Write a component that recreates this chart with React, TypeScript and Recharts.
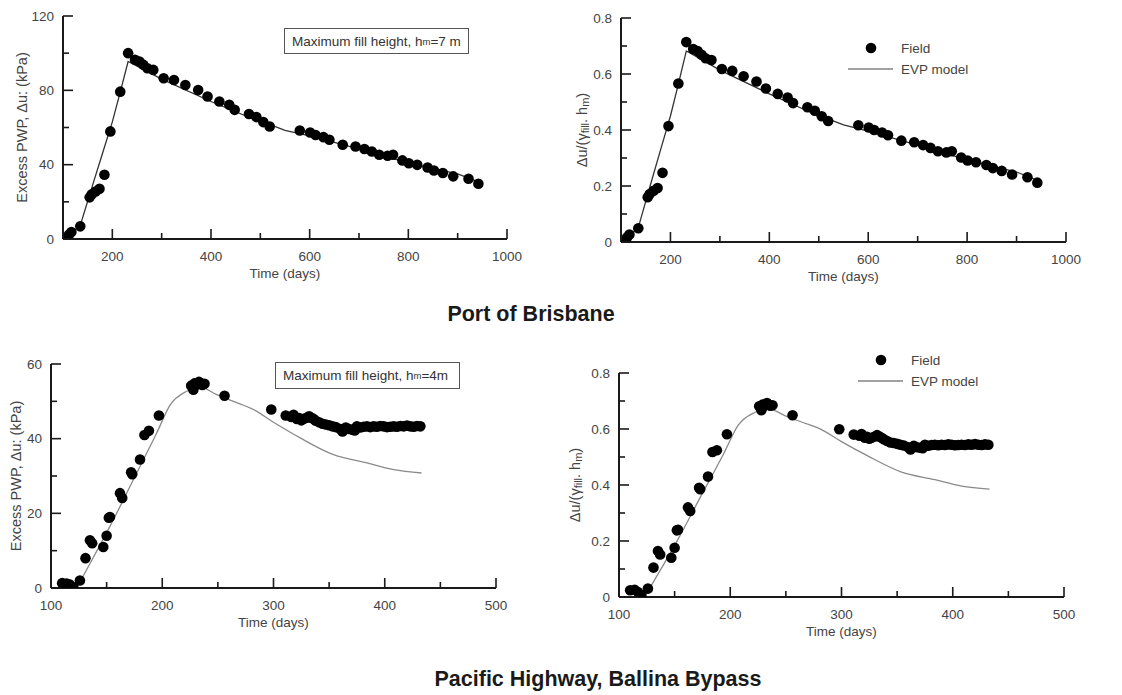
import React from 'react';
import { ComposedChart, Scatter, Line, XAxis, YAxis, Legend } from 'recharts';

// Port of Brisbane - field readings (days, excess PWP kPa, normalised)
const brisbaneFieldDays = [105, 112, 117, 135, 154, 158, 166, 174, 184, 196, 216, 232, 246, 255, 263, 271, 283, 304, 325, 348, 374, 393, 417, 437, 448, 477, 492, 506, 519, 580, 601, 612, 628, 640, 667, 693, 711, 726, 741, 758, 769, 788, 801, 818, 839, 852, 870, 891, 922, 942];
const brisbaneFieldPwp = [0, 2.3, 3.8, 6.8, 22.4, 24, 25.6, 27, 34.6, 57.9, 79.3, 100, 96.4, 95.5, 93.7, 91.9, 91, 86.5, 85.6, 82.9, 80.2, 76.7, 74, 72.2, 69.5, 67.3, 65.6, 62.9, 60.5, 58.4, 57.3, 56, 54.8, 53.4, 50.7, 49.8, 48.4, 47.1, 45.3, 44.8, 45.3, 42.3, 40.8, 39.9, 38.5, 36.9, 35.5, 33.7, 32.4, 29.7];
const brisbaneFieldRatio = [0, 0.016, 0.027, 0.049, 0.16, 0.171, 0.183, 0.193, 0.247, 0.414, 0.566, 0.714, 0.689, 0.682, 0.669, 0.656, 0.65, 0.618, 0.611, 0.592, 0.573, 0.548, 0.529, 0.516, 0.496, 0.481, 0.469, 0.449, 0.432, 0.417, 0.409, 0.4, 0.391, 0.381, 0.362, 0.356, 0.346, 0.336, 0.324, 0.32, 0.324, 0.302, 0.291, 0.285, 0.275, 0.264, 0.254, 0.241, 0.231, 0.212];

// Port of Brisbane - EVP model
const brisbaneModelDays = [103, 120, 137, 160, 180, 200, 216, 232, 236, 300, 400, 500, 520, 550, 600, 700, 800, 900, 945];
const brisbaneModelPwp = [0, 3, 9, 29, 46, 63, 79, 95.5, 95, 86, 74, 63, 61.5, 58.5, 55.5, 48.5, 41, 35, 30.5];
const brisbaneModelRatio = [0, 0.021, 0.064, 0.207, 0.329, 0.45, 0.564, 0.682, 0.679, 0.614, 0.529, 0.45, 0.439, 0.418, 0.396, 0.346, 0.293, 0.25, 0.218];

// Ballina Bypass - field readings
const ballinaFieldDays = [110, 114, 117, 120, 126, 131, 135, 137, 147, 150, 152, 153, 162, 164, 172, 173, 180, 184, 188, 197, 226, 228, 229, 231, 233, 234, 236, 238, 256, 298, 311, 316, 318, 321, 323, 325, 327, 330, 332, 334, 336, 338, 341, 344, 347, 350, 353, 356, 360, 362, 365, 368, 371, 373, 375, 378, 381, 384, 387, 390, 393, 396, 399, 402, 405, 408, 411, 414, 417, 420, 423, 426, 429, 432];
const ballinaFieldPwp = [1.3, 1.2, 0.9, 0.2, 2, 8, 12.8, 12, 11, 14, 18.8, 19, 25.4, 24.1, 31, 30.5, 34.4, 41, 42.1, 46.2, 54.2, 53.1, 54.8, 54.5, 55.2, 54.9, 54.4, 54.7, 51.5, 47.8, 46.2, 45.8, 46.4, 45.3, 45.5, 44.9, 45.3, 45.6, 46, 45.6, 45.3, 44.8, 44.4, 44, 43.8, 43.6, 43.3, 43.1, 42.6, 41.9, 43, 42.6, 42.4, 42.2, 43.3, 43, 43.2, 43.3, 43.1, 43.3, 43.2, 43.4, 43.3, 43.1, 43.2, 43.3, 43.2, 43.4, 43.3, 43.5, 43.3, 43.2, 43.4, 43.3];
const ballinaFieldRatio = [0.024, 0.026, 0.018, 0.006, 0.03, 0.105, 0.164, 0.152, 0.14, 0.176, 0.238, 0.24, 0.32, 0.307, 0.39, 0.385, 0.43, 0.518, 0.524, 0.581, 0.681, 0.667, 0.687, 0.684, 0.693, 0.688, 0.683, 0.685, 0.649, 0.599, 0.58, 0.576, 0.582, 0.569, 0.572, 0.565, 0.569, 0.573, 0.578, 0.573, 0.569, 0.563, 0.557, 0.552, 0.55, 0.547, 0.544, 0.541, 0.535, 0.527, 0.54, 0.535, 0.533, 0.531, 0.544, 0.54, 0.543, 0.544, 0.542, 0.544, 0.543, 0.545, 0.544, 0.542, 0.543, 0.544, 0.543, 0.545, 0.544, 0.546, 0.544, 0.543, 0.545, 0.544];

// Ballina Bypass - EVP model
const ballinaModelDays = [123, 132, 153, 174, 195, 207, 222, 234, 249, 264, 282, 300, 324, 354, 384, 408, 433];
const ballinaModelPwp = [0, 4.9, 16.5, 29, 41.5, 49, 52.7, 53.8, 51.8, 50, 47.8, 44.4, 40.2, 35.7, 33.5, 31.7, 30.8];
const ballinaModelRatio = [0, 0.061, 0.206, 0.363, 0.519, 0.613, 0.659, 0.673, 0.648, 0.625, 0.598, 0.555, 0.503, 0.446, 0.419, 0.396, 0.385];

// axis ticks (minor ticks have no label)
const brisbaneDayTicks = [100, 200, 300, 400, 500, 600, 700, 800, 900, 1000];
const brisbaneDayLabels = [200, 400, 600, 800, 1000];
const ballinaDayTicks = [100, 150, 200, 250, 300, 350, 400, 450, 500];
const ballinaDayLabels = [100, 200, 300, 400, 500];
const brisbanePwpTicks = [0, 20, 40, 60, 80, 100, 120];
const brisbanePwpLabels = [0, 40, 80, 120];
const ballinaPwpTicks = [0, 10, 20, 30, 40, 50, 60];
const ballinaPwpLabels = [0, 20, 40, 60];
const ratioTicks = [0, 0.1, 0.2, 0.3, 0.4, 0.5, 0.6, 0.7, 0.8];
const ratioLabels = [0, 0.2, 0.4, 0.6, 0.8];

const FONT = '"Liberation Sans", Arial, sans-serif';
const AXIS = '#1a1a1a';
const TEXT = '#444';

const toPoints = (xs: number[], ys: number[]) => xs.map((x, i) => ({ x, y: ys[i] }));

const xTick = (labels: number[]) => (props: any) => {
  const { x, y, payload } = props;
  const major = labels.includes(payload.value);
  return (
    <g>
      <line x1={x} x2={x} y1={y} y2={y - (major ? 10 : 6)} stroke={AXIS} strokeWidth={1.6} />
      {major && (
        <text x={x} y={y + 17} textAnchor="middle" dominantBaseline="central" fontSize={13.5} fill={TEXT} fontFamily={FONT}>
          {payload.value}
        </text>
      )}
    </g>
  );
};

const yTick = (labels: number[]) => (props: any) => {
  const { x, y, payload } = props;
  const major = labels.includes(payload.value);
  return (
    <g>
      <line x1={x} x2={x + (major ? 10 : 6)} y1={y} y2={y} stroke={AXIS} strokeWidth={1.6} />
      {major && (
        <text x={x - 9} y={y} textAnchor="end" dominantBaseline="central" fontSize={13.5} fill={TEXT} fontFamily={FONT}>
          {payload.value}
        </text>
      )}
    </g>
  );
};

const xTitle = (props: any) => {
  const { x, y, width } = props.viewBox;
  return (
    <text x={x + width / 2} y={y + 34} textAnchor="middle" dominantBaseline="central" fontSize={13.5} fill={TEXT} fontFamily={FONT}>
      Time (days)
    </text>
  );
};

const yTitle = (content: React.ReactNode, gap: number) => (props: any) => {
  const { x, y, width, height } = props.viewBox;
  const cx = x + width - gap;
  const cy = y + height / 2;
  return (
    <text x={cx} y={cy} transform={`rotate(-90 ${cx} ${cy})`} textAnchor="middle" dominantBaseline="central" fontSize={14.5} fill={TEXT} fontFamily={FONT}>
      {content}
    </text>
  );
};

const pwpTitle = 'Excess PWP, \u0394u: (kPa)';
const ratioTitle = (
  <>
    <tspan>{'\u0394u/(\u03b3'}</tspan>
    <tspan fontSize={11} dy={3}>fill</tspan>
    <tspan dy={-3}>. h</tspan>
    <tspan fontSize={11} dy={3}>m</tspan>
    <tspan dy={-3}>)</tspan>
  </>
);

const Dot = (p: any) => <circle cx={p.cx} cy={p.cy} r={5.3} fill="#000" />;

const LegendBox = () => (
  <svg width={160} height={44} style={{ overflow: 'visible', display: 'block' }}>
    <circle cx={23} cy={10} r={5.3} fill="#000" />
    <text x={53} y={10} dominantBaseline="central" fontSize={13.5} fill={TEXT} fontFamily={FONT}>Field</text>
    <line x1={0} x2={45} y1={31} y2={31} stroke="#444" strokeWidth={1.2} />
    <text x={53} y={31} dominantBaseline="central" fontSize={13.5} fill={TEXT} fontFamily={FONT}>EVP model</text>
  </svg>
);

type PanelProps = {
  left: number;
  top: number;
  width: number;
  height: number;
  margin: { top: number; right: number; bottom: number; left: number };
  field: { x: number; y: number }[];
  model: { x: number; y: number }[];
  xDomain: [number, number];
  xTicks: number[];
  xLabels: number[];
  yDomain: [number, number];
  yTicks: number[];
  yLabels: number[];
  yLabel: React.ReactNode;
  yGap: number;
  modelColor: string;
  smooth: boolean;
  legendAt?: { left: number; top: number };
};

// plot box edges are given by the margins; axes take 1px, taken off the margins
const Panel = (p: PanelProps) => (
  <div style={{ position: 'absolute', left: p.left, top: p.top }}>
    <ComposedChart
      width={p.width}
      height={p.height}
      margin={{ top: p.margin.top, right: p.margin.right, bottom: p.margin.bottom - 1, left: p.margin.left - 1 }}
    >
      <XAxis
        type="number"
        dataKey="x"
        domain={p.xDomain}
        ticks={p.xTicks}
        interval={0}
        allowDataOverflow
        height={1}
        tickSize={0}
        tickMargin={0}
        tickLine={false}
        tick={xTick(p.xLabels)}
        axisLine={{ stroke: AXIS, strokeWidth: 2 }}
        label={xTitle}
      />
      <YAxis
        type="number"
        dataKey="y"
        domain={p.yDomain}
        ticks={p.yTicks}
        interval={0}
        allowDataOverflow
        width={1}
        tickSize={0}
        tickMargin={0}
        tickLine={false}
        tick={yTick(p.yLabels)}
        axisLine={{ stroke: AXIS, strokeWidth: 2 }}
        label={yTitle(p.yLabel, p.yGap)}
      />
      <Line
        data={p.model}
        dataKey="y"
        type={p.smooth ? 'monotone' : 'linear'}
        stroke={p.modelColor}
        strokeWidth={1.3}
        dot={false}
        activeDot={false}
        isAnimationActive={false}
        name="EVP model"
      />
      <Scatter data={p.field} dataKey="y" shape={Dot} isAnimationActive={false} name="Field" />
      {p.legendAt && (
        <Legend
          content={() => <LegendBox />}
          wrapperStyle={{ position: 'absolute', left: p.legendAt.left, top: p.legendAt.top, width: 0, height: 0, overflow: 'visible' }}
        />
      )}
    </ComposedChart>
  </div>
);

const noteStyle: React.CSSProperties = {
  position: 'absolute',
  border: '1px solid #555',
  fontSize: 13.5,
  color: '#333',
  fontFamily: FONT,
  boxSizing: 'border-box',
  display: 'flex',
  alignItems: 'center',
  paddingLeft: 7,
  whiteSpace: 'nowrap',
};

const titleStyle: React.CSSProperties = {
  position: 'absolute',
  fontSize: 21.5,
  fontWeight: 'bold',
  color: '#1a1a1a',
  fontFamily: FONT,
  whiteSpace: 'nowrap',
  transform: 'translate(-50%, -50%)',
};

const App = () => (
  <div style={{ position: 'absolute', left: 0, top: 0, width: 1122, height: 695, background: '#fff', fontFamily: FONT }}>
    <Panel
      left={0}
      top={0}
      width={540}
      height={290}
      margin={{ top: 16, right: 33, bottom: 51, left: 63 }}
      field={toPoints(brisbaneFieldDays, brisbaneFieldPwp)}
      model={toPoints(brisbaneModelDays, brisbaneModelPwp)}
      xDomain={[100, 1000]}
      xTicks={brisbaneDayTicks}
      xLabels={brisbaneDayLabels}
      yDomain={[0, 120]}
      yTicks={brisbanePwpTicks}
      yLabels={brisbanePwpLabels}
      yLabel={pwpTitle}
      yGap={41}
      modelColor="#333"
      smooth={false}
    />
    <Panel
      left={560}
      top={0}
      width={540}
      height={290}
      margin={{ top: 18, right: 34, bottom: 48, left: 61 }}
      field={toPoints(brisbaneFieldDays, brisbaneFieldRatio)}
      model={toPoints(brisbaneModelDays, brisbaneModelRatio)}
      xDomain={[100, 1000]}
      xTicks={brisbaneDayTicks}
      xLabels={brisbaneDayLabels}
      yDomain={[0, 0.8]}
      yTicks={ratioTicks}
      yLabels={ratioLabels}
      yLabel={ratioTitle}
      yGap={39}
      modelColor="#333"
      smooth={false}
      legendAt={{ left: 288, top: 38 }}
    />
    <Panel
      left={0}
      top={330}
      width={540}
      height={310}
      margin={{ top: 34, right: 44, bottom: 52, left: 51 }}
      field={toPoints(ballinaFieldDays, ballinaFieldPwp)}
      model={toPoints(ballinaModelDays, ballinaModelPwp)}
      xDomain={[100, 500]}
      xTicks={ballinaDayTicks}
      xLabels={ballinaDayLabels}
      yDomain={[0, 60]}
      yTicks={ballinaPwpTicks}
      yLabels={ballinaPwpLabels}
      yLabel={pwpTitle}
      yGap={35}
      modelColor="#8a8a8a"
      smooth
    />
    <Panel
      left={560}
      top={330}
      width={540}
      height={310}
      margin={{ top: 43, right: 36, bottom: 43, left: 59 }}
      field={toPoints(ballinaFieldDays, ballinaFieldRatio)}
      model={toPoints(ballinaModelDays, ballinaModelRatio)}
      xDomain={[100, 500]}
      xTicks={ballinaDayTicks}
      xLabels={ballinaDayLabels}
      yDomain={[0, 0.8]}
      yTicks={ratioTicks}
      yLabels={ratioLabels}
      yLabel={ratioTitle}
      yGap={44}
      modelColor="#8a8a8a"
      smooth
      legendAt={{ left: 298, top: 20 }}
    />

    <div style={{ ...noteStyle, left: 284, top: 28, width: 185, height: 26 }}>
      Maximum fill height, h<sub style={{ fontSize: 9.5, verticalAlign: -3 }}>m</sub>=7 m
    </div>
    <div style={{ ...noteStyle, left: 275, top: 362, width: 185, height: 27 }}>
      Maximum fill height, h<sub style={{ fontSize: 9.5, verticalAlign: -3 }}>m</sub>=4m
    </div>

    <div style={{ ...titleStyle, left: 531, top: 314 }}>Port of Brisbane</div>
    <div style={{ ...titleStyle, left: 598, top: 679 }}>Pacific Highway, Ballina Bypass</div>
  </div>
);

export default App;
